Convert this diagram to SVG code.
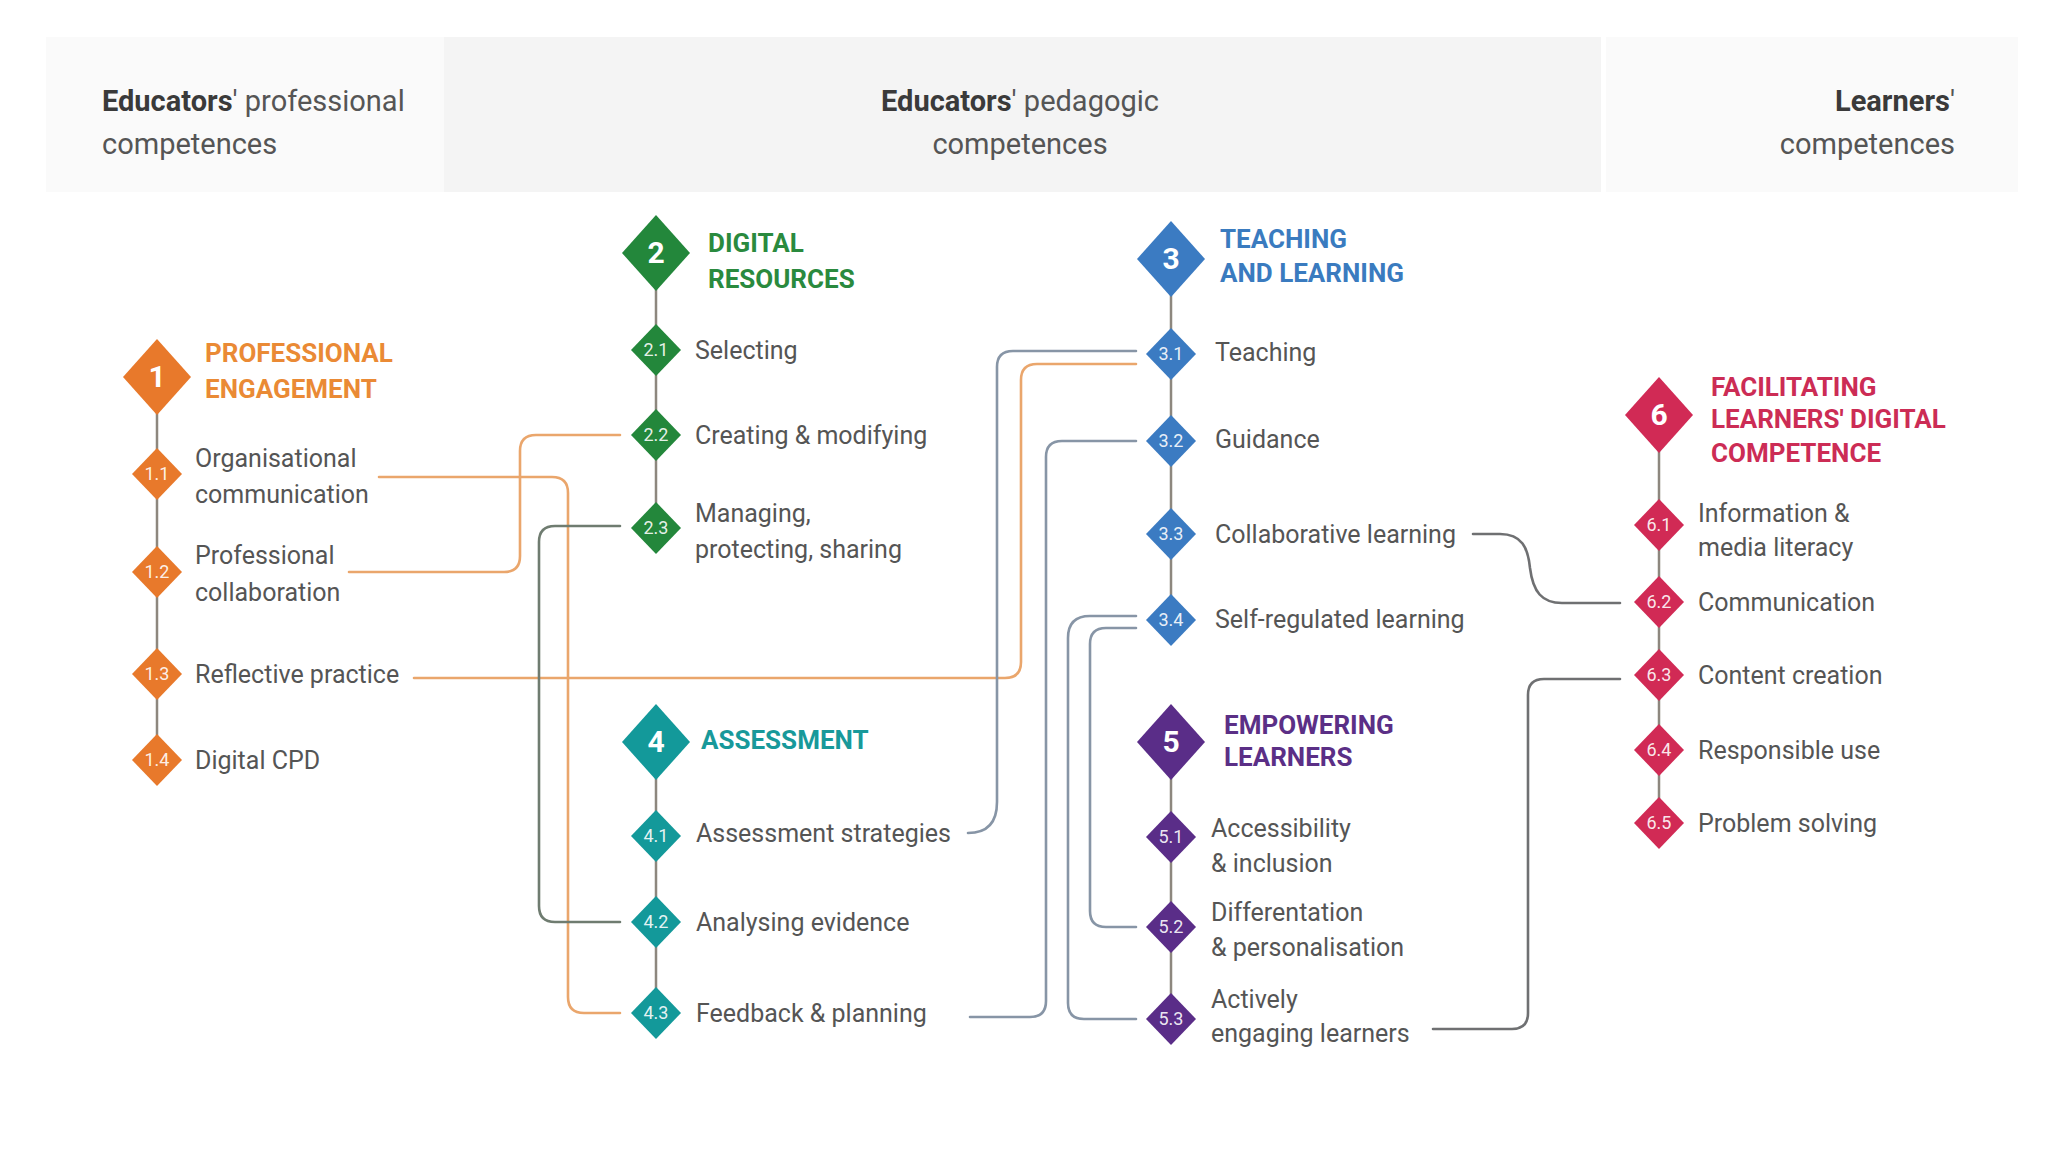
<svg xmlns="http://www.w3.org/2000/svg" xmlns:xlink="http://www.w3.org/1999/xlink" width="2048" height="1152" viewBox="0 0 2048 1152">
<style>
text{font-family:Roboto,"Liberation Sans",sans-serif}
.hd{font-size:29px;fill:#555}
.hb{font-weight:700;fill:#3a3a3a}
.lbl{font-size:25px;fill:#555}
.ttl{font-size:26px;font-weight:700}
.num{font-size:30px;font-weight:700;fill:#fff;text-anchor:middle}
.snum{font-size:18px;fill:#fff;fill-opacity:0.9;text-anchor:middle}
.o{fill:#e8792b}.g{fill:#23873b}.b{fill:#3b7bc2}.t{fill:#13999a}.p{fill:#5a2d88}.r{fill:#d12a55}
.to{fill:#ea8a35}.tg{fill:#2a8a3e}.tb{fill:#3a7bbf}.tt{fill:#18999a}.tp{fill:#5b2f86}.tr{fill:#cc2c55}
.spine{stroke:#8d877e;stroke-width:2.5;fill:none}
.cn{fill:none;stroke-width:2.6;stroke-linecap:round}
.co{stroke:#eaa66c}.cb{stroke:#8795a6}.cg{stroke:#6f7c70}.ck{stroke:#6f7072}
</style>
<defs>
<path id="dm" d="M0,-38 L34,0 L0,38 L-34,0Z"/>
<path id="ds" d="M0,-26 L25,0 L0,26 L-25,0Z"/>
</defs>
<rect width="2048" height="1152" fill="#fff"/>
<g id="header">
<rect x="46" y="37" width="398" height="155" fill="#fafafa"/>
<rect x="444" y="37" width="1157" height="155" fill="#f4f4f4"/>
<rect x="1606" y="37" width="412" height="155" fill="#fafafa"/>
<text class="hd" x="102" y="111"><tspan class="hb">Educators</tspan>' professional</text>
<text class="hd" x="102" y="154">competences</text>
<text class="hd" x="1020" y="111" text-anchor="middle"><tspan class="hb">Educators</tspan>' pedagogic</text>
<text class="hd" x="1020" y="154" text-anchor="middle">competences</text>
<text class="hd" x="1955" y="111" text-anchor="end"><tspan class="hb">Learners</tspan>'</text>
<text class="hd" x="1955" y="154" text-anchor="end">competences</text>
</g>
<g id="connectors">
<g id="spines">
<line class="spine" x1="157" y1="377" x2="157" y2="760"/>
<line class="spine" x1="656" y1="253" x2="656" y2="528"/>
<line class="spine" x1="656" y1="742" x2="656" y2="1013"/>
<line class="spine" x1="1171" y1="259" x2="1171" y2="620"/>
<line class="spine" x1="1171" y1="742" x2="1171" y2="1019"/>
<line class="spine" x1="1659" y1="415" x2="1659" y2="823"/>
</g>
<path class="cn co" d="M379,477 H552 Q568,477 568,493 V997 Q568,1013 584,1013 H620"/>
<path class="cn co" d="M349,572 H504 Q520,572 520,556 V451 Q520,435 536,435 H620"/>
<path class="cn co" d="M414,678 H1005 Q1021,678 1021,662 V380 Q1021,364 1037,364 H1136"/>
<path class="cn cg" d="M620,526 H555 Q539,526 539,542 V906 Q539,922 555,922 H620"/>
<path class="cn cb" d="M968,833 C988,833 997,822 997,802 V367 Q997,351 1013,351 H1136"/>
<path class="cn cb" d="M970,1017 H1030 Q1046,1017 1046,1001 V457 Q1046,441 1062,441 H1136"/>
<path class="cn cb" d="M1136,628 H1106 Q1090,628 1090,644 V911 Q1090,927 1106,927 H1136"/>
<path class="cn cb" d="M1136,616 H1090 Q1068,616 1068,638 V1003 Q1068,1019 1084,1019 H1136"/>
<path class="cn ck" d="M1473,534 H1500 C1522,534 1528,548 1530,568 C1533,592 1542,603 1562,603 H1620"/>
<path class="cn ck" d="M1433,1029 H1512 Q1528,1029 1528,1013 V695 Q1528,679 1544,679 H1620"/>
</g>
<g id="n1">
<use xlink:href="#dm" x="157" y="377" class="o"/>
<text class="num" x="157" y="387">1</text>
<text class="ttl to" x="205" y="362">PROFESSIONAL</text>
<text class="ttl to" x="205" y="398">ENGAGEMENT</text>
</g>
<g id="n1-1"><use xlink:href="#ds" x="157" y="474" class="o"/><text class="snum" x="157" y="480">1.1</text>
<text class="lbl" x="195" y="467">Organisational</text><text class="lbl" x="195" y="503">communication</text></g>
<g id="n1-2"><use xlink:href="#ds" x="157" y="572" class="o"/><text class="snum" x="157" y="578">1.2</text>
<text class="lbl" x="195" y="564">Professional</text><text class="lbl" x="195" y="601">collaboration</text></g>
<g id="n1-3"><use xlink:href="#ds" x="157" y="674" class="o"/><text class="snum" x="157" y="680">1.3</text>
<text class="lbl" x="195" y="683">Reflective practice</text></g>
<g id="n1-4"><use xlink:href="#ds" x="157" y="760" class="o"/><text class="snum" x="157" y="766">1.4</text>
<text class="lbl" x="195" y="769">Digital CPD</text></g>

<g id="n2">
<use xlink:href="#dm" x="656" y="253" class="g"/>
<text class="num" x="656" y="263">2</text>
<text class="ttl tg" x="708" y="252">DIGITAL</text>
<text class="ttl tg" x="708" y="288">RESOURCES</text>
</g>
<g id="n2-1"><use xlink:href="#ds" x="656" y="350" class="g"/><text class="snum" x="656" y="356">2.1</text>
<text class="lbl" x="695" y="359">Selecting</text></g>
<g id="n2-2"><use xlink:href="#ds" x="656" y="435" class="g"/><text class="snum" x="656" y="441">2.2</text>
<text class="lbl" x="695" y="444">Creating &amp; modifying</text></g>
<g id="n2-3"><use xlink:href="#ds" x="656" y="528" class="g"/><text class="snum" x="656" y="534">2.3</text>
<text class="lbl" x="695" y="522">Managing,</text><text class="lbl" x="695" y="558">protecting, sharing</text></g>

<g id="n4">
<use xlink:href="#dm" x="656" y="742" class="t"/>
<text class="num" x="656" y="752">4</text>
<text class="ttl tt" x="701" y="749">ASSESSMENT</text>
</g>
<g id="n4-1"><use xlink:href="#ds" x="656" y="836" class="t"/><text class="snum" x="656" y="842">4.1</text>
<text class="lbl" x="696" y="842">Assessment strategies</text></g>
<g id="n4-2"><use xlink:href="#ds" x="656" y="922" class="t"/><text class="snum" x="656" y="928">4.2</text>
<text class="lbl" x="696" y="931">Analysing evidence</text></g>
<g id="n4-3"><use xlink:href="#ds" x="656" y="1013" class="t"/><text class="snum" x="656" y="1019">4.3</text>
<text class="lbl" x="696" y="1022">Feedback &amp; planning</text></g>

<g id="n3">
<use xlink:href="#dm" x="1171" y="259" class="b"/>
<text class="num" x="1171" y="269">3</text>
<text class="ttl tb" x="1220" y="248">TEACHING</text>
<text class="ttl tb" x="1220" y="282">AND LEARNING</text>
</g>
<g id="n3-1"><use xlink:href="#ds" x="1171" y="354" class="b"/><text class="snum" x="1171" y="360">3.1</text>
<text class="lbl" x="1215" y="361">Teaching</text></g>
<g id="n3-2"><use xlink:href="#ds" x="1171" y="441" class="b"/><text class="snum" x="1171" y="447">3.2</text>
<text class="lbl" x="1215" y="448">Guidance</text></g>
<g id="n3-3"><use xlink:href="#ds" x="1171" y="534" class="b"/><text class="snum" x="1171" y="540">3.3</text>
<text class="lbl" x="1215" y="543">Collaborative learning</text></g>
<g id="n3-4"><use xlink:href="#ds" x="1171" y="620" class="b"/><text class="snum" x="1171" y="626">3.4</text>
<text class="lbl" x="1215" y="628">Self-regulated learning</text></g>

<g id="n5">
<use xlink:href="#dm" x="1171" y="742" class="p"/>
<text class="num" x="1171" y="752">5</text>
<text class="ttl tp" x="1224" y="734">EMPOWERING</text>
<text class="ttl tp" x="1224" y="766">LEARNERS</text>
</g>
<g id="n5-1"><use xlink:href="#ds" x="1171" y="837" class="p"/><text class="snum" x="1171" y="843">5.1</text>
<text class="lbl" x="1211" y="837">Accessibility</text><text class="lbl" x="1211" y="872">&amp; inclusion</text></g>
<g id="n5-2"><use xlink:href="#ds" x="1171" y="927" class="p"/><text class="snum" x="1171" y="933">5.2</text>
<text class="lbl" x="1211" y="921">Differentation</text><text class="lbl" x="1211" y="956">&amp; personalisation</text></g>
<g id="n5-3"><use xlink:href="#ds" x="1171" y="1019" class="p"/><text class="snum" x="1171" y="1025">5.3</text>
<text class="lbl" x="1211" y="1008">Actively</text><text class="lbl" x="1211" y="1042">engaging learners</text></g>

<g id="n6">
<use xlink:href="#dm" x="1659" y="415" class="r"/>
<text class="num" x="1659" y="425">6</text>
<text class="ttl tr" x="1711" y="396">FACILITATING</text>
<text class="ttl tr" x="1711" y="428">LEARNERS' DIGITAL</text>
<text class="ttl tr" x="1711" y="462">COMPETENCE</text>
</g>
<g id="n6-1"><use xlink:href="#ds" x="1659" y="525" class="r"/><text class="snum" x="1659" y="531">6.1</text>
<text class="lbl" x="1698" y="522">Information &amp;</text><text class="lbl" x="1698" y="556">media literacy</text></g>
<g id="n6-2"><use xlink:href="#ds" x="1659" y="602" class="r"/><text class="snum" x="1659" y="608">6.2</text>
<text class="lbl" x="1698" y="611">Communication</text></g>
<g id="n6-3"><use xlink:href="#ds" x="1659" y="675" class="r"/><text class="snum" x="1659" y="681">6.3</text>
<text class="lbl" x="1698" y="684">Content creation</text></g>
<g id="n6-4"><use xlink:href="#ds" x="1659" y="750" class="r"/><text class="snum" x="1659" y="756">6.4</text>
<text class="lbl" x="1698" y="759">Responsible use</text></g>
<g id="n6-5"><use xlink:href="#ds" x="1659" y="823" class="r"/><text class="snum" x="1659" y="829">6.5</text>
<text class="lbl" x="1698" y="832">Problem solving</text></g>
</svg>
